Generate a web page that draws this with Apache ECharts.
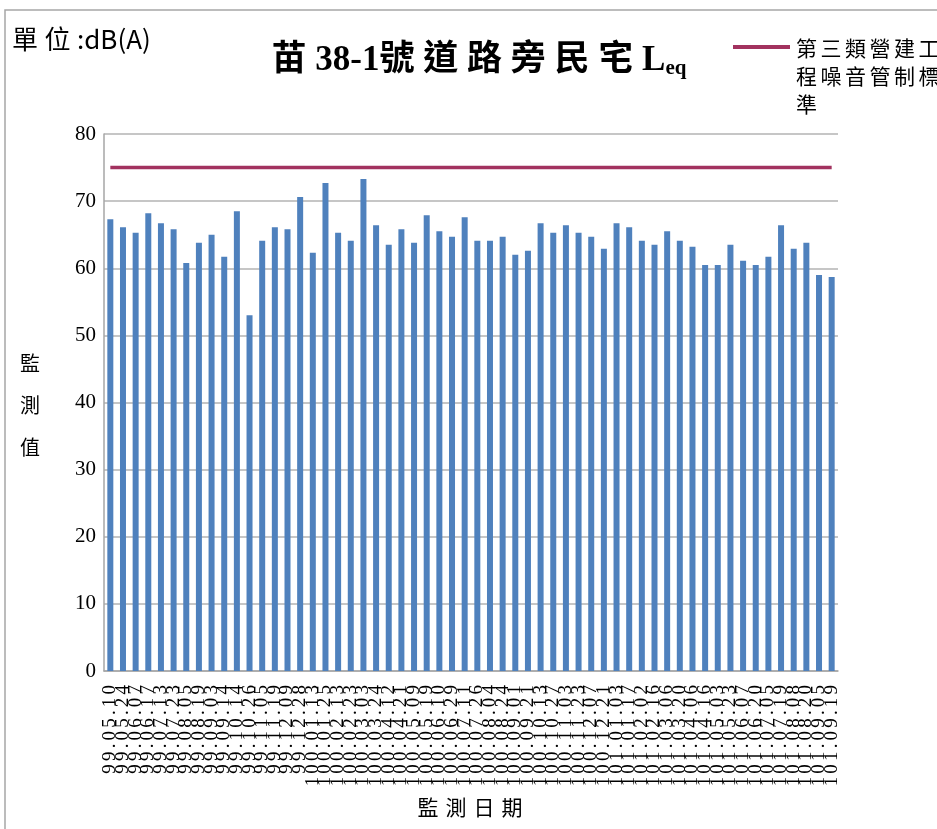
<!DOCTYPE html>
<html><head><meta charset="utf-8">
<script src="https://cdn.jsdelivr.net/npm/echarts@6/dist/echarts.min.js"></script>
<style>html,body{margin:0;padding:0;background:#fff}#c{width:937px;height:829px}</style>
</head><body><div id="c"></div>
<script>
const dates = ['99.05.10','99.05.24','99.06.07','99.06.17','99.07.13','99.07.23','99.08.05','99.08.19','99.09.03','99.09.14','99.10.14','99.10.26','99.11.05','99.11.19','99.12.09','99.12.28','100.01.13','100.01.25','100.02.13','100.02.23','100.03.03','100.03.24','100.04.12','100.04.21','100.05.09','100.05.19','100.06.10','100.06.29','100.07.11','100.07.26','100.08.04','100.08.24','100.09.01','100.09.21','100.10.13','100.10.27','100.11.03','100.11.23','100.12.07','100.12.21','101.01.03','101.01.17','101.02.02','101.02.16','101.03.06','101.03.20','101.04.06','101.04.16','101.05.03','101.05.23','101.06.07','101.06.20','101.07.05','101.07.19','101.08.08','101.08.20','101.09.05','101.09.19'];
const leq = [67.3,66.1,65.3,68.2,66.7,65.8,60.8,63.8,65.0,61.7,68.5,53.0,64.1,66.1,65.8,70.6,62.3,72.7,65.3,64.1,73.3,66.4,63.5,65.8,63.8,67.9,65.5,64.7,67.6,64.1,64.1,64.7,62.0,62.6,66.7,65.3,66.4,65.3,64.7,62.9,66.7,66.1,64.1,63.5,65.5,64.1,63.2,60.5,60.5,63.5,61.1,60.5,61.7,66.4,62.9,63.8,59.0,58.7];
const limitValue = 75;
const limitName = '第三類營建工程噪音管制標準';
const yMin = 0, yMax = 80, yStep = 10;
const limit = dates.map(() => limitValue);

const chart = echarts.init(document.getElementById('c'));
const serif = "'Liberation Serif','Noto Sans CJK TC',serif";
const cjk = "'Noto Sans CJK TC','Liberation Sans',sans-serif";
const sp = '\u2006';
const sp4 = '\u2005';
const spread = (s, g) => s.split('').join(g);
chart.setOption({
  animation: false,
  backgroundColor: '#fff',
  grid: { left: 104, right: 99, top: 134, bottom: 158, containLabel: false },
  xAxis: {
    type: 'category', data: dates, boundaryGap: true,
    axisLine: { lineStyle: { color: '#a6a6a6', width: 1.5 } },
    axisTick: { show: false },
    axisLabel: { interval: 0, rotate: 90, margin: 14, color: '#000', fontFamily: serif, fontSize: 19,
      formatter: v => spread(v, sp) }
  },
  yAxis: {
    type: 'value', min: yMin, max: yMax, interval: yStep,
    axisLine: { show: true, lineStyle: { color: '#a6a6a6', width: 1.5 } },
    axisTick: { show: false },
    splitLine: { lineStyle: { color: '#b3b3b3', width: 1.5 } },
    axisLabel: { color: '#000', fontFamily: serif, fontSize: 21, margin: 8 }
  },
  series: [
    { type: 'bar', data: leq, barWidth: 6, itemStyle: { color: '#4F81BD' } },
    { type: 'line', name: limitName, data: limit, symbol: 'none', lineStyle: { color: '#A2325F', width: 3.5 }, z: 5 }
  ],
  graphic: [
    { type: 'rect', shape: { x: 5, y: 10, width: 1000, height: 900 }, style: { fill: 'none', stroke: '#a6a6a6', lineWidth: 1.5 }, silent: true, z: -10 },
    { type: 'text', x: 12, y: 26, style: { text: '單\u2005位\u2005:dB(A)', font: "26px " + cjk, fill: '#000' } },
    { type: 'text', x: 479, y: 42, style: {
        text: '{a|苗' + sp4 + '38-1號' + sp4 + spread('道路旁民宅', sp4) + sp4 + 'L}{b|eq}', align: 'center',
        rich: {
          a: { fontSize: 35, fontWeight: 'bold', fontFamily: serif, color: '#000' },
          b: { fontSize: 21, fontWeight: 'bold', fontFamily: serif, color: '#000', padding: [16, 0, 0, 0] }
        } } },
    { type: 'line', shape: { x1: 733, y1: 47, x2: 790, y2: 47 }, style: { stroke: '#A2325F', lineWidth: 4 } },
    { type: 'text', x: 796, y: 34, style: { text: spread('第三類營建工', sp) + '\n' + spread('程噪音管制標', sp) + '\n準', font: "21px " + cjk, lineHeight: 28, fill: '#000' } },
    { type: 'text', x: 20, y: 342, style: { text: '監\n測\n值', font: "20px " + cjk, lineHeight: 42, fill: '#000' } },
    { type: 'text', x: 470, y: 797, style: { text: spread('監測日期', '\u2004'), font: "21px " + cjk, align: 'center', fill: '#000' } }
  ]
});
</script></body></html>
